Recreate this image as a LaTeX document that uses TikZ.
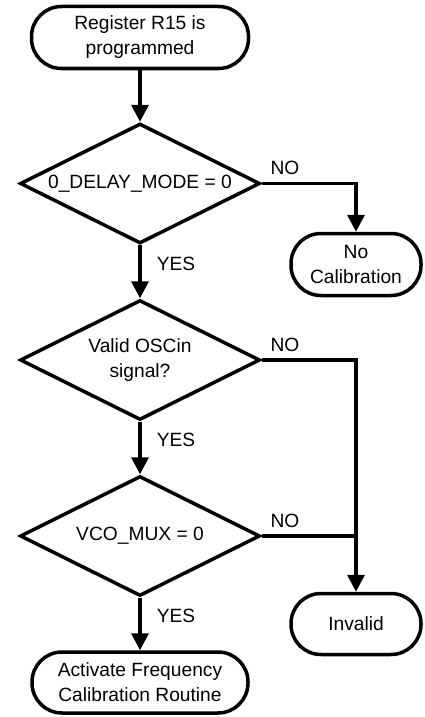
\documentclass[tikz,border=0pt]{standalone}
\usepackage{fontspec}
\setmainfont{Liberation Sans}
\usetikzlibrary{shapes.geometric,arrows.meta}

\newcommand\MYmainx{140}
\newcommand\MYsidex{356}
\newcommand\MYtermwidth{217}
\newcommand\MYtermheight{62}

\begin{document}
\begin{tikzpicture}[x=1pt,y=1pt,line width=3.5pt,
  every node/.style={font=\fontsize{19.2}{25}\selectfont},
  term/.style={draw,rectangle,rounded corners=30pt,align=center,inner sep=0pt,
    minimum width=\MYtermwidth pt,minimum height=\MYtermheight pt},
  decision/.style={draw,diamond,aspect=2,align=center,inner sep=0pt,
    minimum width=240pt,minimum height=120pt},
  flow/.style={-{Triangle[length=17pt,width=17pt]}},
  answer/.style={inner sep=0pt,anchor=base west}]

\useasboundingbox (0,0) rectangle (424,-717);

\node[term] (start) at (\MYmainx,-37.5) {Register R15 is\\programmed};
\node[decision] (delay) at (\MYmainx,-183.5) {0\_DELAY\_MODE = 0};
\node[term,minimum width=130pt] (nocal) at (\MYsidex,-264.5) {No\\Calibration};
\node[decision] (osc) at (\MYmainx,-360) {Valid OSCin\\signal?};
\node[decision] (vcomux) at (\MYmainx,-536) {VCO\_MUX = 0};
\node[term,minimum width=130pt,minimum height=61pt] (invalid) at (\MYsidex,-624) {Invalid};
\node[term,minimum width=216pt,minimum height=61pt] (calib) at (\MYmainx,-682.5) {Activate Frequency\\Calibration Routine};

\coordinate (muxjoin) at (vcomux.east -| invalid.north);

\draw[flow] (start) -- (delay);
\draw[flow] (delay) -- (osc);
\draw[flow] (osc) -- (vcomux);
\draw[flow] (vcomux) -- (calib);
\draw[flow] (delay.east) -| (nocal.north);
\draw[flow] (osc.east) -| (invalid.north);
\draw (vcomux.east) -- (muxjoin);

\node[answer] (yes1) at ([shift={(15,-25)}]delay.south) {YES};
\node[answer] (yes2) at ([shift={(15,-25)}]osc.south) {YES};
\node[answer] (yes3) at ([shift={(15,-25)}]vcomux.south) {YES};
\node[answer] (no1) at ([shift={(7,9)}]delay.east) {NO};
\node[answer] (no2) at ([shift={(7,9)}]osc.east) {NO};
\node[answer] (no3) at ([shift={(7,9)}]vcomux.east) {NO};

\end{tikzpicture}
\end{document}
